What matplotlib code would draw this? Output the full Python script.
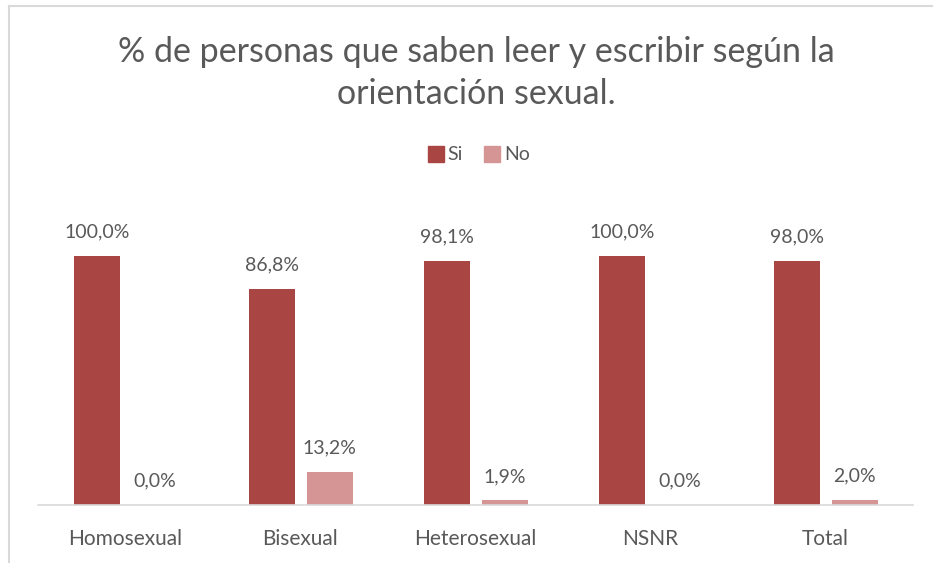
import matplotlib.pyplot as plt
import numpy as np
from matplotlib.lines import Line2D

categorias = ["Homosexual", "Bisexual", "Heterosexual", "NSNR", "Total"]
si = [100.0, 86.8, 98.1, 100.0, 98.0]
no = [0.0, 13.2, 1.9, 0.0, 2.0]

color_si = "#A94644"
color_no = "#D59594"
gris = "#595959"

plt.rcParams['font.family'] = ['Lato', 'DejaVu Sans']

fig = plt.figure(figsize=(9.33, 5.63), dpi=100)
W, H = 933, 563
# area del grafico en pixeles: x 38..913, base en y 505
ax = fig.add_axes([38 / W, (H - 505) / H, 875 / W, 249 * 1.1 / H])

x = np.arange(len(categorias))
ancho = 0.263
b1 = ax.bar(x - 0.163, si, ancho, color=color_si, label="Si")
b2 = ax.bar(x + 0.167, no, ancho, color=color_no, label="No")

def etiquetas(barras, vals):
    for b, v in zip(barras, vals):
        ax.annotate(f"{v:.1f}%".replace(".", ","),
                    (b.get_x() + b.get_width() / 2, b.get_height()),
                    xytext=(0, 11), textcoords="offset points",
                    ha="center", va="bottom", fontsize=14, color=gris)

etiquetas(b1, si)
etiquetas(b2, no)

ax.set_xlim(-0.5, len(categorias) - 0.5)
ax.set_ylim(0, 110)
ax.set_yticks([])
ax.set_xticks(x)
ax.set_xticklabels(categorias, fontsize=15, color=gris)
ax.tick_params(axis="x", length=0, pad=17)
for s in ["top", "right", "left"]:
    ax.spines[s].set_visible(False)
ax.spines["bottom"].set_color("#D9D9D9")
ax.spines["bottom"].set_linewidth(1.2)

fig.text(476 / W, 1 - 73 / H, "% de personas que saben leer y escribir según la\norientación sexual.",
         ha="center", va="center", fontsize=24.5, color=gris, linespacing=1.38)

handles = [Line2D([], [], marker="s", linestyle="None", markersize=11, color=color_si),
           Line2D([], [], marker="s", linestyle="None", markersize=11, color=color_no)]
fig.legend(handles, ["Si", "No"], loc="center", bbox_to_anchor=(478 / W, 1 - 155 / H),
           ncol=2, frameon=False, fontsize=14, labelcolor=gris,
           handletextpad=0.1, columnspacing=1.0, handlelength=1.0)

# borde del grafico
fig.add_artist(Line2D([9 / W, 9 / W], [0, 1 - 6 / H], color="#D9D9D9", lw=1.5))
fig.add_artist(Line2D([9 / W, 1], [1 - 6 / H, 1 - 6 / H], color="#D9D9D9", lw=1.5))

fig.savefig("out.png", dpi=100)
